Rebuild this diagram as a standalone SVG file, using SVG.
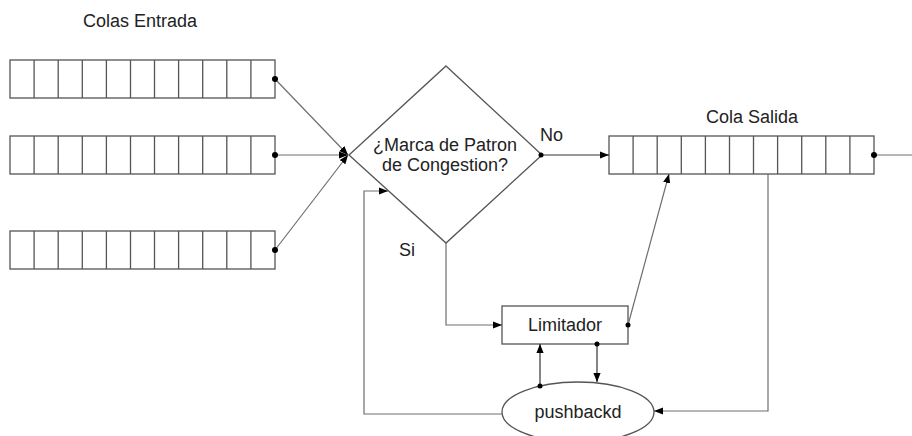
<svg xmlns="http://www.w3.org/2000/svg" xmlns:xlink="http://www.w3.org/1999/xlink" width="912" height="436" viewBox="0 0 912 436">
  <style>
    .txt { font-family: "Liberation Sans", Arial, sans-serif; font-size: 18px; fill: #222; }
    .mid { text-anchor: middle; }
    .shape { fill: #fff; stroke: #555; stroke-width: 1.3; }
    .cell { stroke: #555; stroke-width: 1.3; }
    .conn { fill: none; stroke: #6e6e6e; stroke-width: 1.2; }
    .dark { fill: none; stroke: #333; stroke-width: 1.2; }
    .dot { fill: #000; }
  </style>
  <defs>
    <marker id="arrow" viewBox="0 0 10 10" refX="10" refY="5" markerWidth="9" markerHeight="9" markerUnits="userSpaceOnUse" orient="auto">
      <path d="M0,1 L10,5 L0,9 Z" fill="#000"/>
    </marker>
    <!-- an 11-slot queue, 265 x 38 -->
    <g id="queue">
      <rect class="shape" x="0" y="0" width="265" height="38"/>
      <path class="cell" d="M24.1,0v38M48.2,0v38M72.3,0v38M96.4,0v38M120.5,0v38M144.5,0v38M168.6,0v38M192.7,0v38M216.8,0v38M240.9,0v38"/>
    </g>
  </defs>

  <rect width="912" height="436" fill="#fff"/>

  <text class="txt" x="83" y="27">Colas Entrada</text>

  <g id="colas-entrada">
    <g id="cola-entrada-1"><use xlink:href="#queue" x="10" y="60"/></g>
    <g id="cola-entrada-2"><use xlink:href="#queue" x="10" y="136"/></g>
    <g id="cola-entrada-3"><use xlink:href="#queue" x="10" y="231"/></g>
  </g>

  <g id="decision">
    <polygon class="shape" points="446,66 542,155 446,243 349,155"/>
    <text class="txt mid" x="445" y="151">¿Marca de Patron</text>
    <text class="txt mid" x="445" y="171">de Congestion?</text>
  </g>

  <g id="cola-salida">
    <text class="txt mid" x="752" y="123">Cola Salida</text>
    <use xlink:href="#queue" x="609" y="136"/>
  </g>

  <g id="limitador">
    <rect class="shape" x="502" y="306" width="126" height="38"/>
    <text class="txt mid" x="565" y="331">Limitador</text>
  </g>

  <g id="pushbackd">
    <ellipse class="shape" cx="578" cy="412" rx="76" ry="30"/>
    <text class="txt mid" x="578" y="418">pushbackd</text>
  </g>

  <g id="connectors">
    <!-- input queues into the decision -->
    <path class="conn" d="M275,79 L348,155" marker-end="url(#arrow)"/>
    <path class="conn" d="M275,155 L348,155" marker-end="url(#arrow)"/>
    <path class="conn" d="M275,250 L348,155" marker-end="url(#arrow)"/>
    <circle class="dot" cx="275" cy="79" r="3"/>
    <circle class="dot" cx="275" cy="155" r="3"/>
    <circle class="dot" cx="275" cy="250" r="3"/>

    <!-- No: to output queue -->
    <path class="dark" d="M541,155 H609" marker-end="url(#arrow)"/>
    <circle class="dot" cx="541" cy="155" r="2.5"/>
    <text class="txt" x="540" y="141">No</text>

    <!-- Si: to limiter -->
    <path class="conn" d="M446,243 V325 H502" marker-end="url(#arrow)"/>
    <text class="txt" x="399" y="256">Si</text>

    <!-- limiter to output queue -->
    <path class="conn" d="M628,325 L669,174" marker-end="url(#arrow)"/>
    <circle class="dot" cx="628" cy="325" r="2.5"/>

    <!-- output queue tail -->
    <path class="conn" d="M874,155 H912"/>
    <circle class="dot" cx="874" cy="155" r="3"/>

    <!-- output queue to pushbackd -->
    <path class="conn" d="M768,174 V411 H654" marker-end="url(#arrow)"/>

    <!-- pushbackd back into the decision -->
    <path class="conn" d="M502,414 H364 V191 H388" marker-end="url(#arrow)"/>

    <!-- pushbackd <-> limiter -->
    <path class="dark" d="M540,386 V344" marker-end="url(#arrow)"/>
    <circle class="dot" cx="540" cy="386" r="2.5"/>
    <path class="dark" d="M597,344 V382" marker-end="url(#arrow)"/>
    <circle class="dot" cx="597" cy="344" r="2.5"/>
  </g>
</svg>
